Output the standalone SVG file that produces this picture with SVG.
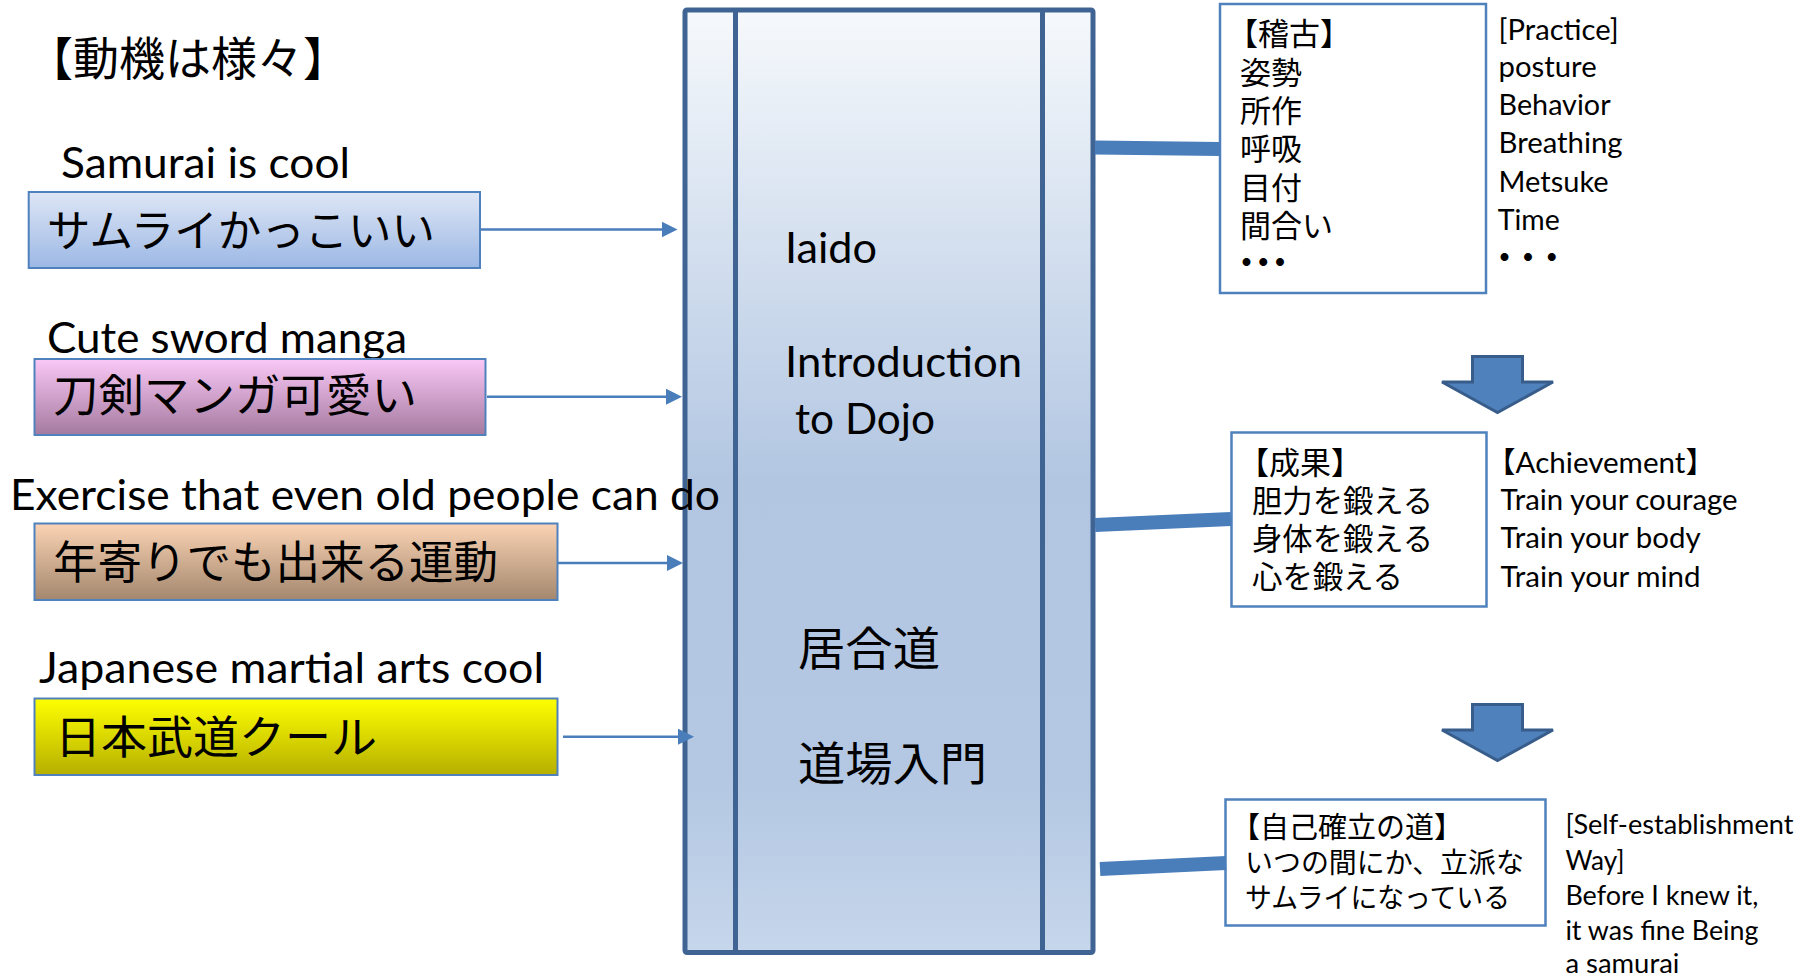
<svg xmlns="http://www.w3.org/2000/svg" width="1816" height="976" viewBox="0 0 1816 976">
<defs>
<linearGradient id="gMain" x1="0" y1="0" x2="0" y2="1">
<stop offset="0" stop-color="#F6F9FC"/><stop offset="0.5" stop-color="#B2C6E2"/><stop offset="0.82" stop-color="#B4C8E3"/><stop offset="1" stop-color="#C6D6EB"/>
</linearGradient>
<linearGradient id="gBlue" x1="0" y1="0" x2="0" y2="1"><stop offset="0" stop-color="#DEE6F5"/><stop offset="1" stop-color="#9CB8E5"/></linearGradient>
<linearGradient id="gPink" x1="0" y1="0" x2="0" y2="1"><stop offset="0" stop-color="#FAC8F7"/><stop offset="1" stop-color="#A47A9F"/></linearGradient>
<linearGradient id="gOrange" x1="0" y1="0" x2="0" y2="1"><stop offset="0" stop-color="#FBD3B4"/><stop offset="1" stop-color="#A3876E"/></linearGradient>
<linearGradient id="gYellow" x1="0" y1="0" x2="0" y2="1"><stop offset="0" stop-color="#FFFF00"/><stop offset="1" stop-color="#B5AF00"/></linearGradient>
<marker id="ah" markerUnits="userSpaceOnUse" markerWidth="16" markerHeight="16" refX="8" refY="8" orient="auto"><path d="M0,0 L16,8 L0,16 Z" fill="#4A7EBB"/></marker>
<style>
.en{font-family:Lato,'Noto Sans CJK JP',sans-serif;fill:#000}
.jp{font-family:'Noto Sans CJK JP',sans-serif;fill:#000}
.lbox{stroke:#4F81BD;stroke-width:2}
.rbox{fill:#fff;stroke:#4F81BD;stroke-width:2.5}
.thin{stroke:#4A7EBB;stroke-width:2.5;fill:none;marker-end:url(#ah)}
.thick{stroke:#4A7EBB;stroke-width:14;fill:none}
.barrow{fill:#4F81BD;stroke:#385D8A;stroke-width:3;stroke-linejoin:miter}
.frame{fill:none;stroke:#3F6494;stroke-width:5}
.frameRect{fill:url(#gMain);stroke:#3F6494;stroke-width:5}
</style>
</defs>

<g id="title">
<text class="jp" x="27" y="75" font-size="46">【動機は様々】</text>
</g>

<g id="center">
<rect x="685" y="10" width="408" height="942.5" rx="2" class="frameRect"/>
<line x1="735.5" y1="10" x2="735.5" y2="952.5" class="frame"/>
<line x1="1042.5" y1="10" x2="1042.5" y2="952.5" class="frame"/>
<text class="en" x="785" y="262.5" font-size="43" textLength="92" lengthAdjust="spacingAndGlyphs">Iaido</text>
<text class="en" x="785" y="377" font-size="43" textLength="237" lengthAdjust="spacingAndGlyphs">Introduction</text>
<text class="en" x="795" y="433.5" font-size="43" textLength="140" lengthAdjust="spacingAndGlyphs">to Dojo</text>
<text class="jp" x="798" y="665" font-size="46" textLength="142" lengthAdjust="spacingAndGlyphs">居合道</text>
<text class="jp" x="798" y="780" font-size="46" textLength="189" lengthAdjust="spacingAndGlyphs">道場入門</text>
</g>

<g id="samurai">
<text class="en" x="61" y="178" font-size="43" textLength="289" lengthAdjust="spacingAndGlyphs">Samurai is cool</text>
<rect x="28.7" y="192" width="451.3" height="76" fill="url(#gBlue)" class="lbox"/>
<text class="jp" x="47" y="247" font-size="44" textLength="388" lengthAdjust="spacingAndGlyphs">サムライかっこいい</text>
</g>

<g id="manga">
<text class="en" x="47" y="353" font-size="43" textLength="360" lengthAdjust="spacingAndGlyphs">Cute sword manga</text>
<rect x="34.5" y="359" width="451" height="76" fill="url(#gPink)" class="lbox"/>
<text class="jp" x="53" y="412" font-size="45" textLength="364" lengthAdjust="spacingAndGlyphs">刀剣マンガ可愛い</text>
</g>

<g id="exercise">
<text class="en" x="10" y="510" font-size="43" textLength="710" lengthAdjust="spacingAndGlyphs">Exercise that even old people can do</text>
<rect x="34.5" y="523.5" width="523" height="76.5" fill="url(#gOrange)" class="lbox"/>
<text class="jp" x="53" y="579" font-size="45" textLength="445" lengthAdjust="spacingAndGlyphs">年寄りでも出来る運動</text>
</g>

<g id="budo">
<text class="en" x="39" y="683" font-size="43" textLength="505" lengthAdjust="spacingAndGlyphs">Japanese martial arts cool</text>
<rect x="34.5" y="698.5" width="523" height="76.5" fill="url(#gYellow)" class="lbox"/>
<text class="jp" x="55" y="754" font-size="45" textLength="322" lengthAdjust="spacingAndGlyphs">日本武道クール</text>
</g>

<g id="practice">
<rect x="1220" y="4" width="266" height="289" class="rbox"/>
<text class="jp" x="1227" y="44.5" font-size="31">【稽古】</text>
<text class="jp" x="1240" y="83.5" font-size="31">姿勢</text>
<text class="jp" x="1240" y="121.5" font-size="31">所作</text>
<text class="jp" x="1240" y="159.5" font-size="31">呼吸</text>
<text class="jp" x="1240" y="198.5" font-size="31">目付</text>
<text class="jp" x="1240" y="236.5" font-size="31">間合い</text>
<text class="jp" x="1231" y="273" font-size="31" font-weight="bold" letter-spacing="-14.3">・・・</text>
<text class="en" x="1498.6" y="40" font-size="29" textLength="120" lengthAdjust="spacingAndGlyphs">[Practice]</text>
<text class="en" x="1498.6" y="77" font-size="29" textLength="98" lengthAdjust="spacingAndGlyphs">posture</text>
<text class="en" x="1498.6" y="115" font-size="29" textLength="112" lengthAdjust="spacingAndGlyphs">Behavior</text>
<text class="en" x="1498.6" y="153" font-size="29" textLength="124" lengthAdjust="spacingAndGlyphs">Breathing</text>
<text class="en" x="1498.6" y="192" font-size="29" textLength="110" lengthAdjust="spacingAndGlyphs">Metsuke</text>
<text class="en" x="1497.8" y="230" font-size="29" textLength="62" lengthAdjust="spacingAndGlyphs">Time</text>
<text class="jp" x="1489" y="268" font-size="31" font-weight="bold" letter-spacing="-7.4">・・・</text>
</g>

<g id="achievement">
<rect x="1231.5" y="432.5" width="255" height="174" class="rbox"/>
<text class="jp" x="1238" y="473.5" font-size="31">【成果】</text>
<text class="jp" x="1252" y="511.5" font-size="31" textLength="181" lengthAdjust="spacingAndGlyphs">胆力を鍛える</text>
<text class="jp" x="1252" y="549.5" font-size="31" textLength="181" lengthAdjust="spacingAndGlyphs">身体を鍛える</text>
<text class="jp" x="1252" y="587.5" font-size="31" textLength="151" lengthAdjust="spacingAndGlyphs">心を鍛える</text>
<text class="en" x="1486" y="473" font-size="29" textLength="229" lengthAdjust="spacingAndGlyphs">【Achievement】</text>
<text class="en" x="1500.6" y="510" font-size="29" textLength="237" lengthAdjust="spacingAndGlyphs">Train your courage</text>
<text class="en" x="1500.6" y="548" font-size="29" textLength="200" lengthAdjust="spacingAndGlyphs">Train your body</text>
<text class="en" x="1500.6" y="586.7" font-size="29" textLength="200" lengthAdjust="spacingAndGlyphs">Train your mind</text>
</g>

<g id="selfway">
<rect x="1225.5" y="799.5" width="320" height="126" class="rbox"/>
<text class="jp" x="1231" y="837.5" font-size="29">【自己確立の道】</text>
<text class="jp" x="1245" y="872.5" font-size="28" textLength="279" lengthAdjust="spacingAndGlyphs">いつの間にか、立派な</text>
<text class="jp" x="1245" y="907.5" font-size="28" textLength="265" lengthAdjust="spacingAndGlyphs">サムライになっている</text>
<text class="en" x="1565.4" y="834" font-size="26" textLength="228" lengthAdjust="spacingAndGlyphs">[Self-establishment</text>
<text class="en" x="1565.4" y="870" font-size="26" textLength="59" lengthAdjust="spacingAndGlyphs">Way]</text>
<text class="en" x="1565.4" y="905" font-size="26" textLength="193" lengthAdjust="spacingAndGlyphs">Before I knew it,</text>
<text class="en" x="1565.4" y="940" font-size="26" textLength="193" lengthAdjust="spacingAndGlyphs">it was fine Being</text>
<text class="en" x="1565.4" y="973" font-size="26" textLength="114" lengthAdjust="spacingAndGlyphs">a samurai</text>
</g>

<g id="connectors">
<line x1="481" y1="229.5" x2="669.5" y2="229.5" class="thin"/>
<line x1="487" y1="396.7" x2="674" y2="396.7" class="thin"/>
<line x1="558" y1="563" x2="675" y2="563" class="thin"/>
<line x1="563" y1="736.7" x2="686" y2="736.7" class="thin"/>
<line x1="1095" y1="147.5" x2="1220" y2="149" class="thick"/>
<line x1="1095" y1="525" x2="1231" y2="519" class="thick"/>
<line x1="1100" y1="869" x2="1226" y2="863" class="thick"/>
<path d="M1472.5,356.5 H1522.5 V382 H1553 L1497.5,412.5 L1442,382 H1472.5 Z" class="barrow"/>
<path d="M1472.5,704.5 H1522.5 V730 H1553 L1497.5,760.5 L1442,730 H1472.5 Z" class="barrow"/>
</g>
</svg>
